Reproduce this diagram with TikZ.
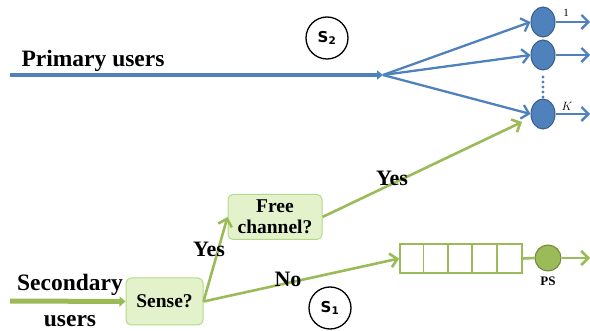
\documentclass[tikz,border=0pt]{standalone}
\usepackage{fontspec}
\setmainfont{Liberation Serif}
\setsansfont{DejaVu Sans}
\usetikzlibrary{shapes.geometric,arrows.meta}
\definecolor{pblue}{HTML}{4F81BD}
\definecolor{pblued}{HTML}{385D8A}
\definecolor{sgreen}{HTML}{9BBB59}
\definecolor{sgreend}{HTML}{71893F}
\definecolor{boxfill}{HTML}{E4F2CC}
\definecolor{boxline}{HTML}{B3D98A}
\begin{document}
\begin{tikzpicture}[x=1pt,y=-1pt]
	\tikzset{big/.style={font=\bfseries\fontsize{23.5}{26}\selectfont, inner sep=0pt}}
	\tikzset{answer/.style={font=\bfseries\fontsize{22}{24}\selectfont, inner sep=0pt}}
	\tikzset{boxtxt/.style={font=\bfseries\fontsize{19.5}{21}\selectfont}}
	\tikzset{question/.style={draw=boxline, fill=boxfill, rounded corners=5pt, line width=1pt, boxtxt, align=center, inner sep=1pt}}
	\tikzset{server/.style={ellipse, draw=pblued, fill=pblue, line width=1pt, minimum width=24pt, minimum height=30pt, inner sep=0pt}}
	\tikzset{blueline/.style={pblue, line width=2.3pt, -{Straight Barb[length=7pt,width=14pt]}}}
	\tikzset{greenline/.style={sgreen, line width=2.6pt, -{Straight Barb[length=7pt,width=14pt]}}}
	\tikzset{state/.style={circle, draw, line width=1.3pt, minimum size=42pt, inner sep=0pt, font=\sffamily\bfseries\fontsize{15}{17}\selectfont}}
	\useasboundingbox (0,0) rectangle (590,331);
	% primary side
	\coordinate (pstart) at (10,75);
	\coordinate (fan) at (383,75);
	\node[big] (ptext) at (93,61) {Primary users};
	\node[state] (s2) at (327,38) {S\textsubscript{2}};
	\draw[pblue, line width=4.5pt, -{Triangle[length=6pt,width=9pt]}] (pstart) -- (fan);
	\node[server] (srv1) at (543,22) {};
	\node[server] (srv2) at (543,55) {};
	\node[server] (srvK) at (543,114) {};
	\node[font=\fontsize{11}{13}\selectfont] (l1) at (566,13) {1};
	\node[font=\fontsize{13}{15}\selectfont] (lK) at (567,106) {$K$};
	\foreach \y in {77,82,87,92,97}
		\fill[pblue] (543,\y) circle (1.7pt);
	\foreach \s in {srv1,srv2,srvK}
		\draw[blueline] (fan) -- (\s.west);
	\coordinate (o1) at (590,22);
	\coordinate (o2) at (590,55);
	\coordinate (oK) at (590,114);
	\draw[blueline] (srv1.east) -- (o1);
	\draw[blueline] (srv2.east) -- (o2);
	\draw[blueline] (srvK.east) -- (oK);
	% secondary side
	\coordinate (sstart) at (10,301);
	\node[big] (stext) at (70,285) {Secondary};
	\node[big] (utext) at (70,321) {users};
	\node[question, minimum width=77pt, minimum height=47pt] (sense) at (164.5,301.5) {Sense?};
	\node[question, minimum width=94pt, minimum height=45pt] (free) at (275,217) {Free\\channel?};
	\draw[sgreen, line width=5pt, -{Triangle[length=6pt,width=10pt]}] (sstart) -- (sense.west);
	\draw[greenline] (sense.east) -- (free.west);
	\node[answer] (yes1) at (209,249) {Yes};
	\node[draw=sgreen, line width=1.8pt, fill=white, minimum width=122pt, minimum height=29pt, inner sep=0pt] (queue) at (461,258.5) {};
	\foreach \i in {1,...,4}
		\draw[sgreen, line width=1.8pt] ([xshift=\i*24.4pt]queue.north west) -- ([xshift=\i*24.4pt]queue.south west);
	\draw[greenline] (sense.east) -- (queue.west);
	\node[answer] (no) at (288,279) {No};
	\coordinate (kin) at (522,122);
	\draw[greenline] (free.east) -- (kin);
	\node[answer] (yes2) at (392,178) {Yes};
	\node[circle, draw=sgreend, fill=sgreen, line width=1pt, minimum width=26pt, inner sep=0pt] (ps) at (548,258) {};
	\node[font=\bfseries\fontsize{13}{15}\selectfont] (pstext) at (548,281) {PS};
	\draw[sgreen, line width=2.6pt] (queue.east) -- (ps.west);
	\coordinate (pout) at (590,258);
	\draw[greenline] (ps.east) -- (pout);
	\node[state] (s1) at (330,308) {S\textsubscript{1}};
\end{tikzpicture}
\end{document}
